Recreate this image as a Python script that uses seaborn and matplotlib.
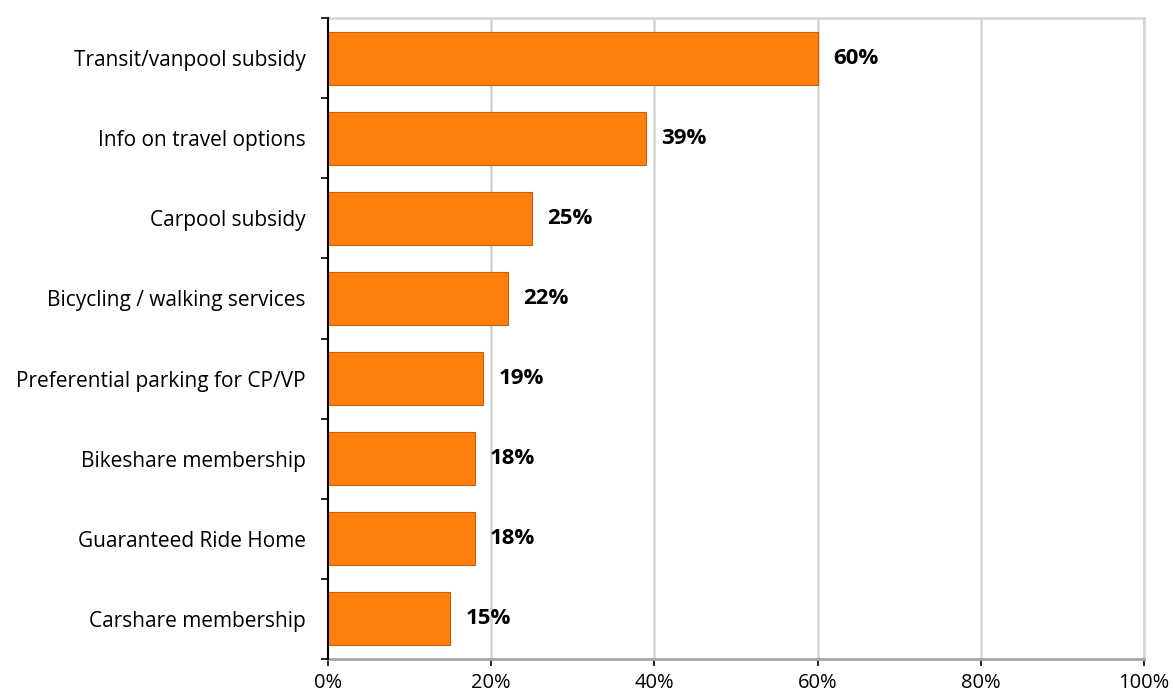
import matplotlib
matplotlib.use("Agg")
import matplotlib.pyplot as plt
import seaborn as sns
import pandas as pd
import numpy as np

categories = ["Transit/vanpool subsidy", "Info on travel options", "Carpool subsidy",
              "Bicycling / walking services", "Preferential parking for CP/VP",
              "Bikeshare membership", "Guaranteed Ride Home", "Carshare membership"]
values = [60, 39, 25, 22, 19, 18, 18, 15]
xticks = [0, 20, 40, 60, 80, 100]

sns.set_theme(style="white")
plt.rcParams['font.family'] = ['Open Sans', 'DejaVu Sans']
plt.rcParams['text.color'] = 'black'
plt.rcParams['xtick.color'] = 'black'
plt.rcParams['ytick.color'] = 'black'

df = pd.DataFrame({"cat": categories, "val": values})
fig = plt.figure(figsize=(11.73, 6.98), dpi=100)
ax = fig.add_axes([328/1173, 1-659/698, (1144-328)/1173, (659-18)/698])

sns.barplot(data=df, y="cat", x="val", orient="h", color="#ff7f0e", saturation=1,
            width=0.66, edgecolor="#c85f0a", linewidth=0.8, ax=ax, zorder=3)

ax.set_xlim(0, 100)
ax.set_ylim(len(categories)-0.5, -0.5)
ax.set_xticks(xticks)
ax.set_xticklabels([f"{t}%" for t in xticks], fontsize=14.5)
ax.set_xlabel("")
ax.set_ylabel("")
for t in xticks[1:]:
    ax.axvline(t, color="#d4d4d4", lw=1.8, zorder=1)
ax.tick_params(axis="y", which="major", left=False, length=0, pad=16, labelsize=15)
ax.set_yticks(np.arange(-0.5, len(categories), 1), minor=True)
ax.tick_params(axis="y", which="minor", left=True, length=5, width=1.2, color="black", direction="out")
ax.tick_params(axis="x", which="major", bottom=True, length=5, width=1.2, color="black", direction="out", pad=5)
for lab in ax.get_yticklabels() + ax.get_xticklabels():
    lab.set_color("black")

for s in ["top", "right"]:
    ax.spines[s].set_color("#d4d4d4")
    ax.spines[s].set_linewidth(1.8)
ax.spines["bottom"].set_color("#a6a6a6")
ax.spines["bottom"].set_linewidth(2)
ax.spines["left"].set_color("black")
ax.spines["left"].set_linewidth(1.5)
ax.spines["left"].set_zorder(5)

for i, v in enumerate(values):
    ax.annotate(f"{v}%", (v, i), xytext=(11, 0), textcoords="offset points",
                va="center", ha="left", fontsize=16, fontweight="bold", color="black")

fig.savefig("out.png", dpi=100)
